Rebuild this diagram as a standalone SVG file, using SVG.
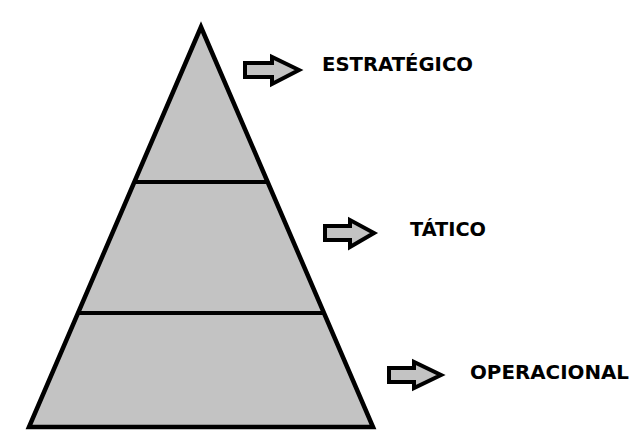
<svg xmlns="http://www.w3.org/2000/svg" width="644" height="446" viewBox="0 0 644 446">
<style>
.tri{fill:#c3c3c3;stroke:#000;stroke-width:4.5;stroke-linejoin:miter}
.div{stroke:#000;stroke-width:4;fill:none}
.arr{fill:#c3c3c3;stroke:#000;stroke-width:4;stroke-linejoin:miter}
.lbl{font-family:"DejaVu Sans","Open Sans",sans-serif;font-weight:bold;font-size:19px;fill:#000}
</style>
<rect width="644" height="446" fill="#fff"/>
<g id="pyramid">
<polygon class="tri" points="201,27 29,427 373,427"/>
<line class="div" x1="134" y1="182" x2="268" y2="182"/>
<line class="div" x1="78" y1="313" x2="325" y2="313"/>
</g>
<g id="connectors">
<polygon class="arr" points="245,63 272,63 272,57 299,70 272,84 272,77 245,77"/>
<polygon class="arr" points="325,226 350,226 350,220 374,233 350,247 350,240 325,240"/>
<polygon class="arr" points="389,368 414,368 414,362 441,375 414,388 414,382 389,382"/>
</g>
<g id="n-estrategico"><text class="lbl" x="322" y="71" textLength="151" lengthAdjust="spacingAndGlyphs">ESTRATÉGICO</text></g>
<g id="n-tatico"><text class="lbl" x="410" y="236" textLength="76" lengthAdjust="spacingAndGlyphs">TÁTICO</text></g>
<g id="n-operacional"><text class="lbl" x="470" y="379" textLength="159" lengthAdjust="spacingAndGlyphs">OPERACIONAL</text></g>
</svg>
